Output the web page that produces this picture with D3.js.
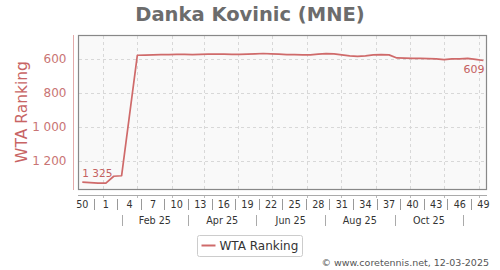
<!DOCTYPE html>
<html>
<head>
<meta charset="utf-8">
<script src="https://cdn.jsdelivr.net/npm/d3@7"></script>
<style>
  body { margin: 0; background: #fff; }
  svg { font-family: "DejaVu Sans", Verdana, sans-serif; display: block; }
</style>
</head>
<body>
<script>
// weekly WTA ranking, week 50 of 2024 to week 49 of 2025 (null = no ranking published)
const weeks = [50, 51, 52, 1, 2, 3, 4, 5, 6, 7, 8, 9, 10, 11, 12, 13, 14, 15, 16, 17, 18, 19,
  20, 21, 22, 23, 24, 25, 26, 27, 28, 29, 30, 31, 32, 33, 34, 35, 36, 37, 38, 39, 40,
  41, 42, 43, 44, 45, 46, 47, 48, 49];
const ranks = [1325, 1328, 1330, 1330, 1290, 1287, null, 578, 577, 576, 575, 574, 573, 573,
  574, 573, 572, 572, 572, 573, 573, 572, 570, 568, 570, 572, 574, 575, 576, 576, 572, 569,
  570, 576, 582, 585, 582, 576, 575, 576, 594, 595, 596, 597, 598, 600, 604, 600, 599, 597,
  602, 609];
const firstMonday = new Date(2024, 11, 9);
const rankTicks = [600, 800, 1000, 1200];
const monthLabels = ["Feb 25", "Apr 25", "Jun 25", "Aug 25", "Oct 25"];
const monthIdx = [1, 3, 5, 7, 9];

const w = 500, h = 270;
const lineColor = "#cf6a6a";
const fmt = d3.formatLocale({ decimal: ".", thousands: " ", grouping: [3], currency: ["", ""] }).format(",d");

const data = weeks.map((wk, i) => ({ week: wk, date: d3.timeWeek.offset(firstMonday, i), rank: ranks[i] }));

const x = d3.scaleTime()
  .domain([data[0].date, data[data.length - 1].date])
  .range([82.3, 483.4]);
const y = d3.scaleLinear().domain([459, 1371]).range([35, 190]);

const svg = d3.select("body").append("svg").attr("width", w).attr("height", h);

svg.append("text")
  .attr("x", 250).attr("y", 21)
  .attr("text-anchor", "middle")
  .style("font-size", "19.5px").style("font-weight", "bold")
  .attr("fill", "#6c6c6c")
  .text("Danka Kovinic (MNE)");

// plot area
svg.append("rect")
  .attr("x", 78.5).attr("y", 35.5).attr("width", 408).attr("height", 154)
  .attr("fill", "#f9f9f9");

// gridlines near the end of each month
const gridDates = d3.range(12).map(m => new Date(2024, 11 + m, 27));
svg.append("g").selectAll("line")
  .data(gridDates).enter().append("line")
  .attr("x1", d => Math.round(x(d)) + 0.5).attr("x2", d => Math.round(x(d)) + 0.5)
  .attr("y1", 36).attr("y2", 189)
  .attr("stroke", "#d8d8d8").attr("stroke-dasharray", "3,3");
svg.append("g").selectAll("line")
  .data(rankTicks).enter().append("line")
  .attr("x1", 79).attr("x2", 486)
  .attr("y1", d => Math.round(y(d)) + 0.5).attr("y2", d => Math.round(y(d)) + 0.5)
  .attr("stroke", "#d8d8d8").attr("stroke-dasharray", "3,3");

svg.append("rect")
  .attr("x", 78.5).attr("y", 35.5).attr("width", 408).attr("height", 154)
  .attr("fill", "none").attr("stroke", "#888").attr("stroke-width", 1.2);

// y axis
const yAxis = svg.append("g")
  .attr("transform", "translate(73.5,0)")
  .call(d3.axisLeft(y).tickValues(rankTicks).tickSize(0).tickPadding(7).tickFormat(fmt));
yAxis.select(".domain").attr("stroke", "#e3aaaa").attr("d", "M0,35V190");
yAxis.selectAll("text")
  .attr("fill", "#c97474")
  .style("font-size", "12px").style("font-family", "DejaVu Sans");

svg.append("text")
  .attr("transform", "translate(27,112) rotate(-90)")
  .attr("text-anchor", "middle")
  .attr("fill", "#c86464")
  .style("font-size", "15.5px")
  .text("WTA Ranking");

// x axis: weeks
svg.append("line")
  .attr("x1", 78).attr("x2", 487).attr("y1", 195.5).attr("y2", 195.5)
  .attr("stroke", "#aaa");
svg.append("g").selectAll("line")
  .data(gridDates).enter().append("line")
  .attr("x1", d => Math.round(x(d)) + 0.5).attr("x2", d => Math.round(x(d)) + 0.5)
  .attr("y1", 196).attr("y2", 198)
  .attr("stroke", "#bbb");

const labelled = data.filter((d, i) => i % 3 === 0);
svg.append("g").selectAll("text")
  .data(labelled).enter().append("text")
  .attr("x", d => x(d.date)).attr("y", 208)
  .attr("text-anchor", "middle")
  .attr("fill", "#333")
  .style("font-size", "9.6px")
  .text(d => d.week);
svg.append("g").selectAll("line")
  .data(labelled.slice(1)).enter().append("line")
  .attr("x1", d => Math.round(x(d3.timeDay.offset(d.date, -10.5))) + 0.5)
  .attr("x2", d => Math.round(x(d3.timeDay.offset(d.date, -10.5))) + 0.5)
  .attr("y1", 199).attr("y2", 210)
  .attr("stroke", "#999");

// x axis: months
const monthSeps = d3.range(6).map(k => new Date(2025, 2 * k, 13));
svg.append("g").selectAll("line")
  .data(monthSeps).enter().append("line")
  .attr("x1", d => Math.round(x(d)) + 0.5).attr("x2", d => Math.round(x(d)) + 0.5)
  .attr("y1", 215).attr("y2", 226)
  .attr("stroke", "#aaa");
svg.append("g").selectAll("text")
  .data(monthLabels).enter().append("text")
  .attr("x", (d, i) => (x(new Date(2025, monthIdx[i] - 1, 13)) + x(new Date(2025, monthIdx[i] + 1, 13))) / 2)
  .attr("y", 224)
  .attr("text-anchor", "middle")
  .attr("fill", "#333")
  .style("font-size", "9.6px")
  .text(d => d);

// ranking line
const shown = data.filter(d => d.rank !== null);
svg.append("path")
  .datum(shown)
  .attr("fill", "none")
  .attr("stroke", lineColor)
  .attr("stroke-width", 1.7)
  .attr("stroke-linejoin", "round")
  .attr("d", d3.line().x(d => x(d.date)).y(d => y(d.rank)));

const first = shown[0], last = shown[shown.length - 1];
svg.append("text")
  .attr("x", x(first.date)).attr("y", y(first.rank) - 5.5)
  .attr("fill", "#c46060").style("font-size", "10.5px")
  .text(fmt(first.rank));
svg.append("text")
  .attr("x", x(last.date) + 1).attr("y", y(last.rank) + 12.5)
  .attr("text-anchor", "end")
  .attr("fill", "#c46060").style("font-size", "11px")
  .text(fmt(last.rank));

// legend
const legend = svg.append("g").attr("transform", "translate(197.5,235.5)");
legend.append("rect")
  .attr("width", 105).attr("height", 21).attr("rx", 2)
  .attr("fill", "#fff").attr("stroke", "#ccc");
legend.append("line")
  .attr("x1", 4).attr("x2", 18).attr("y1", 10).attr("y2", 10)
  .attr("stroke", lineColor).attr("stroke-width", 2);
legend.append("text")
  .attr("x", 22).attr("y", 14.5)
  .attr("fill", "#333").style("font-size", "12px")
  .text("WTA Ranking");

svg.append("text")
  .attr("x", 489).attr("y", 266)
  .attr("text-anchor", "end")
  .attr("fill", "#555").style("font-size", "9.5px")
  .text("©  www.coretennis.net, 12-03-2025");
</script>
</body>
</html>
